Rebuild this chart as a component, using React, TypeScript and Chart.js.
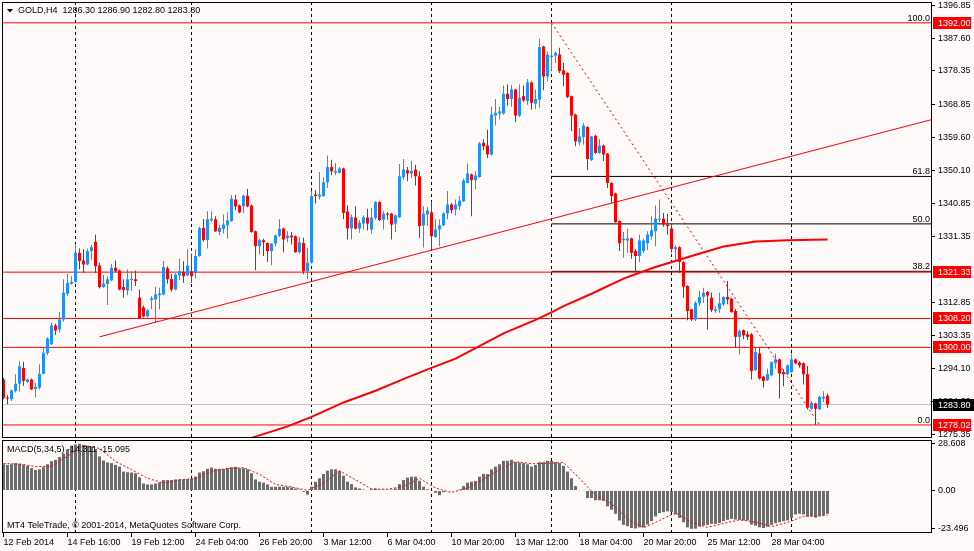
import React, { useEffect, useRef } from "react";
import { Chart, registerables } from "chart.js";

Chart.register(...registerables);

const FONT = '"Liberation Sans", Arial, sans-serif';
const BG = "#FFFAFA";
const BULL = "#1E90FF";
const BEAR = "#FF0000";

// ---- GOLD H4 candles (bar 0 = 12 Feb 2014 00:00) ----
const openP = [
  1290.9,1285.7,1285.3,1287.6,1289.7,1294.2,1290.2,1290.9,1288.2,1288.6,
  1292.5,1298.4,1300.9,1306.2,1305.1,1307.9,1315.2,1318.0,1318.6,1326.8,
  1324.6,1323.5,1327.3,1329.9,1323.2,1317.1,1318.0,1319.0,1322.6,1321.8,
  1317.1,1316.1,1319.1,1319.3,1314.1,1311.3,1308.8,1313.4,1313.6,1314.8,
  1315.0,1322.4,1319.4,1316.4,1320.4,1321.4,1320.5,1321.6,1321.1,1325.9,
  1333.9,1330.4,1336.0,1336.3,1332.7,1333.6,1334.6,1335.8,1341.9,1340.2,
  1340.0,1343.0,1340.2,1332.9,1328.7,1330.4,1329.6,1327.3,1329.4,1331.7,
  1333.7,1331.0,1331.7,1331.5,1327.0,1329.6,1321.6,1324.0,1343.3,1342.7,
  1342.9,1346.8,1351.1,1349.5,1349.5,1350.7,1338.5,1333.7,1336.8,1333.7,
  1335.1,1336.8,1333.4,1336.7,1341.2,1336.2,1337.9,1337.9,1335.1,1336.9,
  1348.2,1350.2,1349.3,1350.4,1348.5,1334.6,1337.7,1338.3,1331.3,1333.4,
  1334.6,1338.0,1340.5,1339.1,1340.0,1341.4,1346.6,1349.0,1347.4,1348.3,
  1358.0,1357.2,1354.7,1365.7,1366.3,1366.3,1371.9,1370.4,1373.1,1365.7,
  1371.2,1369.8,1375.1,1369.1,1370.2,1385.3,1376.8,1382.3,1382.7,1383.0,
  1378.5,1377.8,1371.2,1366.0,1358.1,1359.6,1362.5,1353.1,1360.0,1355.1,
  1357.2,1354.9,1346.6,1343.6,1335.8,1330.4,1330.3,1330.9,1327.3,1325.9,
  1327.3,1329.5,1331.5,1332.9,1336.2,1336.5,1334.8,1333.7,1327.8,1328.4,
  1324.2,1317.4,1310.8,1307.9,1312.5,1314.3,1315.7,1314.1,1310.3,1310.8,
  1312.2,1314.3,1313.8,1310.3,1303.0,1304.9,1303.7,1303.7,1293.6,1298.3,
  1291.7,1290.7,1292.1,1295.5,1296.6,1293.0,1292.4,1293.0,1296.6,1295.7,
  1295.5,1292.4,1282.6,1284.1,1282.4,1285.5,1286.30,
];
const highP = [
  1291.4,1286.5,1288.1,1292.4,1296.1,1295.9,1291.2,1291.2,1290.0,1295.2,
  1299.9,1302.9,1307.0,1306.7,1310.1,1319.3,1320.9,1320.2,1329.4,1328.0,
  1327.8,1328.0,1329.0,1332.0,1324.0,1320.5,1320.2,1323.7,1324.6,1322.1,
  1319.3,1322.1,1321.6,1321.8,1316.4,1311.9,1310.8,1314.5,1317.2,1316.9,
  1324.5,1323.0,1320.7,1321.0,1325.2,1324.4,1327.9,1326.6,1327.8,1334.2,
  1336.4,1338.6,1338.5,1337.2,1334.8,1337.7,1338.3,1343.1,1343.3,1340.5,
  1343.3,1344.9,1340.5,1333.1,1330.8,1330.8,1329.8,1329.6,1332.0,1336.3,
  1333.9,1332.9,1332.7,1331.7,1331.3,1331.1,1328.2,1344.3,1344.6,1349.7,
  1348.3,1354.4,1353.2,1352.3,1351.1,1350.9,1340.2,1337.7,1340.0,1336.1,
  1337.4,1339.3,1339.5,1341.4,1341.4,1338.6,1338.3,1338.1,1337.7,1352.0,
  1353.4,1351.1,1352.8,1351.8,1349.9,1340.0,1339.8,1341.4,1336.3,1336.3,
  1338.3,1344.3,1341.0,1341.9,1342.9,1347.8,1352.1,1349.3,1349.9,1358.2,
  1358.9,1361.7,1368.2,1370.4,1368.2,1374.2,1374.5,1374.4,1373.3,1374.5,
  1374.2,1376.1,1375.4,1373.1,1387.5,1385.5,1383.9,1392.0,1383.9,1384.9,
  1380.6,1378.0,1371.4,1366.2,1362.2,1363.6,1362.7,1360.0,1360.3,1359.1,
  1357.5,1355.1,1346.8,1343.8,1336.0,1332.7,1333.6,1331.1,1327.9,1332.0,
  1330.9,1332.9,1337.2,1340.2,1341.9,1338.1,1337.9,1335.1,1328.9,1328.7,
  1324.4,1317.6,1310.9,1313.1,1316.0,1316.9,1316.0,1315.5,1311.7,1315.5,
  1314.5,1318.8,1314.1,1310.9,1305.1,1305.1,1304.6,1304.0,1299.9,1299.9,
  1291.9,1294.0,1296.1,1298.3,1296.8,1293.8,1295.2,1298.3,1296.8,1296.1,
  1295.8,1294.7,1284.8,1284.3,1286.2,1287.6,1286.90,
];
const lowP = [
  1285.3,1283.9,1284.8,1287.2,1287.4,1289.1,1289.9,1287.9,1285.9,1288.1,
  1292.4,1297.8,1300.7,1303.5,1304.2,1307.3,1314.5,1317.8,1318.3,1322.1,
  1321.1,1323.3,1324.9,1321.1,1316.7,1316.9,1312.0,1318.8,1321.4,1316.2,
  1314.1,1314.8,1316.0,1317.4,1308.1,1308.5,1308.5,1310.8,1307.0,1310.8,
  1314.8,1318.1,1315.8,1316.2,1319.1,1318.3,1320.2,1318.3,1319.5,1325.7,
  1330.0,1328.0,1335.6,1332.7,1331.8,1332.3,1330.8,1335.6,1338.9,1338.0,
  1338.1,1339.8,1332.5,1321.9,1326.3,1325.9,1324.3,1323.3,1328.7,1331.3,
  1327.0,1329.8,1329.2,1326.8,1326.6,1320.7,1319.3,1323.8,1340.8,1341.9,
  1342.7,1345.2,1348.8,1348.8,1349.3,1336.4,1330.6,1330.6,1333.4,1332.5,
  1333.4,1333.1,1332.3,1336.2,1335.8,1333.4,1336.2,1330.6,1332.7,1336.7,
  1347.6,1347.1,1348.0,1345.9,1331.1,1328.3,1334.4,1327.8,1331.1,1328.7,
  1334.4,1336.3,1338.0,1337.4,1338.9,1341.2,1346.5,1337.2,1344.8,1348.1,
  1355.9,1353.7,1354.4,1362.9,1364.6,1366.0,1368.5,1368.2,1363.8,1365.3,
  1369.5,1368.8,1367.4,1367.6,1367.9,1372.9,1375.4,1378.5,1380.6,1377.8,
  1374.0,1370.7,1361.3,1357.0,1357.2,1357.5,1350.2,1352.8,1354.9,1354.9,
  1352.8,1345.2,1341.0,1335.3,1327.3,1325.4,1326.8,1325.1,1321.0,1324.2,
  1326.8,1327.6,1330.6,1328.7,1335.5,1334.2,1332.0,1326.8,1324.9,1321.1,
  1314.1,1307.7,1307.5,1307.5,1311.7,1312.6,1305.1,1310.0,1309.8,1309.8,
  1311.7,1312.2,1309.8,1299.9,1298.0,1302.3,1302.1,1290.9,1293.3,1290.9,
  1288.6,1290.5,1291.9,1294.0,1285.5,1289.0,1292.1,1292.8,1295.2,1294.2,
  1289.5,1282.4,1282.3,1278.02,1282.3,1284.5,1282.80,
];
const closeP = [
  1285.7,1285.5,1287.8,1289.7,1294.6,1290.5,1290.9,1288.1,1288.8,1292.5,
  1298.5,1302.5,1306.2,1304.8,1307.9,1315.5,1318.3,1318.6,1326.8,1324.5,
  1323.5,1327.3,1328.4,1323.0,1317.1,1318.1,1319.3,1322.6,1321.6,1316.4,
  1316.3,1319.3,1319.3,1318.8,1308.2,1308.8,1310.5,1313.9,1315.0,1315.3,
  1322.8,1319.3,1316.4,1320.7,1321.6,1320.2,1323.2,1320.2,1325.9,1333.8,
  1330.4,1336.3,1336.5,1332.9,1333.9,1334.8,1336.0,1342.1,1340.0,1338.3,
  1343.0,1340.0,1332.7,1328.7,1330.4,1329.8,1327.3,1329.4,1331.7,1333.6,
  1330.6,1331.7,1331.2,1327.0,1329.8,1321.6,1324.0,1342.9,1342.9,1343.3,
  1346.8,1351.1,1349.9,1349.9,1350.7,1338.1,1333.7,1336.9,1333.7,1335.3,
  1336.9,1335.1,1336.8,1341.2,1336.1,1337.9,1337.6,1334.8,1337.4,1348.5,
  1350.4,1349.3,1350.0,1348.5,1334.4,1337.9,1338.8,1331.5,1333.4,1334.6,
  1338.0,1340.5,1338.9,1340.5,1341.6,1347.3,1349.3,1347.4,1348.7,1357.8,
  1357.0,1354.7,1366.0,1366.5,1366.9,1371.9,1370.4,1373.1,1365.7,1370.7,
  1370.0,1375.1,1369.3,1370.4,1385.1,1376.8,1383.0,1382.7,1383.5,1378.3,
  1377.3,1371.0,1365.7,1358.4,1359.8,1362.9,1353.4,1359.8,1355.1,1357.2,
  1354.7,1346.6,1342.9,1335.5,1329.5,1330.8,1330.9,1326.8,1325.9,1330.3,
  1330.3,1332.0,1333.2,1336.5,1336.5,1334.8,1334.4,1327.9,1328.4,1324.2,
  1317.2,1310.3,1307.9,1312.6,1314.3,1315.5,1314.7,1310.6,1310.8,1312.5,
  1314.3,1313.6,1310.0,1303.0,1304.6,1303.4,1303.0,1293.3,1298.7,1291.2,
  1290.5,1292.4,1295.8,1296.6,1292.6,1292.4,1294.9,1296.6,1295.5,1294.9,
  1292.4,1282.9,1284.3,1282.6,1286.0,1286.0,1283.80,
];

// ---- moving average (read at selected bars) ----
const maBars = [59, 63, 71, 77, 85, 93, 101, 107, 113, 118, 125, 133, 137, 140, 147, 155, 163, 172, 180, 188, 196, 206];
const maValues = [1273.3, 1274.7, 1277.6, 1280.3, 1284.4, 1287.7, 1291.5, 1294.2, 1296.8, 1299.8, 1304.0, 1307.8, 1309.9, 1311.7, 1315.2, 1319.5, 1322.8, 1325.9, 1328.6, 1330.0, 1330.4, 1330.6];

// ---- MACD(5,34,5) ----
const macdMain = [
  16.1,15.7,16.1,16.8,16.4,15.9,15.1,13.7,12.6,13.0,
  14.3,16.1,18.0,18.8,20.5,22.6,25.1,27.5,28.2,28.608,
  28.0,27.5,27.1,25.5,20.9,18.4,17.2,16.8,15.7,14.7,
  11.6,11.2,11.0,10.6,8.1,4.3,3.7,3.7,4.3,5.0,
  6.4,6.4,6.4,6.8,6.8,6.8,7.0,7.2,8.5,11.0,
  11.8,13.3,14.1,13.3,13.3,13.3,13.7,14.3,14.5,13.7,
  13.7,13.0,10.6,6.8,5.4,4.8,3.7,2.3,2.3,2.3,
  2.3,2.3,1.9,1.2,0.6,-0.8,-2.5,2.3,5.4,7.5,
  10.1,12.2,13.0,13.0,12.0,9.1,5.4,3.9,1.9,1.2,
  0.6,0.2,0.8,1.2,0.6,0.6,0.6,0.6,1.2,3.9,
  6.4,7.9,8.5,8.5,6.0,2.3,0.8,-0.2,-1.4,-2.9,
  -1.0,-0.4,-0.4,-0.4,0.6,2.7,4.8,5.4,5.8,8.5,
  10.1,10.1,13.0,14.7,16.1,18.2,18.2,18.8,17.4,17.2,
  16.8,16.1,14.7,15.7,17.4,17.4,18.2,18.2,17.4,16.8,
  15.1,11.6,7.5,2.7,0.2,-0.2,-4.6,-4.6,-6.0,-6.0,
  -6.4,-9.7,-11.8,-14.3,-18.4,-21.1,-21.9,-23.0,-23.3,-22.6,
  -22.6,-20.9,-18.8,-15.9,-13.8,-13.3,-12.8,-13.3,-14.7,-16.8,
  -19.5,-22.6,-23.496,-23.4,-22.2,-21.5,-21.1,-20.5,-20.5,-19.9,
  -18.8,-18.0,-17.4,-17.8,-18.0,-18.4,-18.4,-20.9,-21.5,-22.6,
  -23.0,-22.2,-21.1,-20.1,-19.5,-18.8,-18.4,-16.8,-14.7,-14.3,
  -14.7,-15.9,-15.8,-16.6,-15.6,-15.2,-14.311,
];
const signalBars = [
  0,4,8,12,16,20,24,28,32,36,40,44,48,52,56,60,64,68,72,76,80,84,88,92,96,100,
  104,108,112,116,120,124,128,132,136,140,144,148,152,156,160,164,168,172,176,
  180,184,188,192,196,200,204,206,
];
const signalValues = [
  16.6,16.2,14.7,14.8,21.0,27.5,25.8,17.8,12.8,7.5,
  4.6,6.6,7.3,11.7,13.5,14.0,9.9,3.7,2.2,0.1,
  4.6,12.1,6.5,0.9,0.8,2.5,7.5,1.5,-1.2,1.5,
  6.9,12.8,17.7,16.4,16.7,17.1,7.4,-3.0,-8.0,-17.5,
  -22.8,-18.4,-13.6,-19.5,-22.6,-20.2,-18.0,-19.4,-22.1,-19.6,
  -15.8,-15.7,-15.095,
];
const macdTicks = [28.608, 0, -23.496];
const macdTickLabels = ["28.608", "0.00", "-23.496"];

// ---- axes / annotations ----
const priceTicks = [1396.85, 1387.6, 1378.35, 1368.85, 1359.6, 1350.1, 1340.85, 1331.35, 1312.85, 1303.35, 1294.1, 1284.6, 1275.35];
const redLevels = [1392.0, 1321.33, 1308.2, 1300.0, 1278.02];
const bidPrice = 1283.8;
const fibLabels = ["100.0", "61.8", "50.0", "38.2", "0.0"];
const fibLevels = [1392.0, 1348.46, 1335.01, 1321.56, 1278.02];
const fibStartBar = 137;
const fibEndBar = 204;
const trendBars = [24, 232.125];
const trendPrices = [1303.0, 1364.6];
const weekBars = [18, 47, 77, 107, 137, 167, 197];
const timeLabelBars = [0, 16, 32, 48, 64, 80, 96, 112, 128, 144, 160, 176, 192];
const timeLabels = [
  "12 Feb 2014", "14 Feb 16:00", "19 Feb 12:00", "24 Feb 04:00", "26 Feb 20:00",
  "3 Mar 12:00", "6 Mar 04:00", "10 Mar 20:00", "13 Mar 12:00", "18 Mar 04:00",
  "20 Mar 20:00", "25 Mar 12:00", "28 Mar 04:00",
];
const symbolTitle = "GOLD,H4";
const macdTitle = "MACD(5,34,5)";
const copyright = "MT4 TeleTrade, \u00A9 2001-2014, MetaQuotes Software Corp.";

const X_MIN = -0.375;
const X_MAX = 232.125;
const Y_MIN = 1274.32;
const Y_MAX = 1397.9;
const M_MIN = -26.07;
const M_MAX = 30.98;

Chart.defaults.font.family = FONT;
Chart.defaults.font.size = 9;
Chart.defaults.color = "#000";

const noPad = (s: any) => {
  s.paddingTop = 0;
  s.paddingBottom = 0;
  s.paddingLeft = 0;
  s.paddingRight = 0;
};

const framePlugin = {
  id: "frame",
  afterDraw(chart: any) {
    const { ctx, chartArea: a } = chart;
    ctx.save();
    ctx.strokeStyle = "#000";
    ctx.lineWidth = 1;
    ctx.strokeRect(a.left + 0.5, a.top + 0.5, a.right - a.left - 1, a.bottom - a.top - 1);
    ctx.restore();
  },
};

const mainOverlay = {
  id: "mainOverlay",
  afterDraw(chart: any) {
    const { ctx, chartArea: a } = chart;
    const ys = chart.scales.y;
    ctx.save();
    ctx.font = `9px ${FONT}`;
    ctx.fillStyle = "#000";
    ctx.textAlign = "right";
    ctx.textBaseline = "alphabetic";
    fibLabels.forEach((t, k) => {
      ctx.fillText(t, a.right - 2, Math.round(ys.getPixelForValue(fibLevels[k])) - 2);
    });
    const box = (v: number, color: string, w: number) => {
      const py = Math.round(ys.getPixelForValue(v));
      ctx.fillStyle = color;
      ctx.fillRect(a.right + 1, py - 6, w, 12);
      ctx.fillStyle = "#fff";
      ctx.textAlign = "left";
      ctx.textBaseline = "middle";
      ctx.fillText(v.toFixed(2), a.right + 6, py + 0.5);
    };
    redLevels.forEach((v) => box(v, BEAR, 38));
    box(bidPrice, "#000", 42);
    ctx.fillStyle = "#000";
    ctx.beginPath();
    ctx.moveTo(7, 9);
    ctx.lineTo(13, 9);
    ctx.lineTo(10, 12.5);
    ctx.closePath();
    ctx.fill();
    const last = closeP.length - 1;
    const header = `${symbolTitle}  ${openP[last].toFixed(2)} ${highP[last].toFixed(2)} ${lowP[last].toFixed(2)} ${closeP[last].toFixed(2)}`;
    ctx.textAlign = "left";
    ctx.textBaseline = "middle";
    ctx.fillText(header, 18, 11);
    ctx.restore();
  },
};

const macdOverlay = {
  id: "macdOverlay",
  afterDraw(chart: any) {
    const { ctx } = chart;
    ctx.save();
    ctx.font = `9px ${FONT}`;
    ctx.fillStyle = "#000";
    ctx.textAlign = "left";
    ctx.textBaseline = "middle";
    const lastM = macdMain[macdMain.length - 1];
    const lastS = signalValues[signalValues.length - 1];
    ctx.fillText(`${macdTitle} ${lastM.toFixed(3)} ${lastS.toFixed(3)}`, 7, 9.5);
    ctx.fillText(copyright, 7, 86);
    ctx.restore();
  },
};

const bars = openP.map((_, i) => i);
const candleColors = bars.map((i) => (closeP[i] >= openP[i] ? BULL : BEAR));

function hLine(v: number, from: number, color: string, order: number) {
  return {
    type: "line",
    data: [{ x: from, y: v }, { x: X_MAX, y: v }],
    borderColor: color,
    borderWidth: 1,
    pointRadius: 0,
    order,
  };
}

function mainConfig(): any {
  return {
    type: "bar",
    data: {
      datasets: [
        ...redLevels.map((v) => hLine(v, X_MIN, BEAR, 10)),
        hLine(bidPrice, X_MIN, "#C0C0C0", 11),
        ...fibLevels.slice(1, 4).map((v) => hLine(v, fibStartBar, "#000", 10)),
        {
          type: "bar",
          data: bars.map((i) => ({ x: i, y: [lowP[i], highP[i]] })),
          backgroundColor: candleColors,
          barThickness: 1,
          grouped: false,
          minBarLength: 1,
          borderWidth: 0,
          inflateAmount: 0,
          order: 9,
        },
        {
          type: "bar",
          data: bars.map((i) => ({ x: i, y: [openP[i], closeP[i]] })),
          backgroundColor: candleColors,
          barThickness: 3,
          grouped: false,
          minBarLength: 1,
          borderWidth: 0,
          inflateAmount: 0,
          order: 8,
        },
        {
          type: "line",
          data: maBars.map((b, k) => ({ x: b, y: maValues[k] })),
          borderColor: BEAR,
          borderWidth: 2,
          pointRadius: 0,
          order: 3,
        },
        {
          type: "line",
          data: trendBars.map((b, k) => ({ x: b, y: trendPrices[k] })),
          borderColor: BEAR,
          borderWidth: 1,
          pointRadius: 0,
          order: 2,
        },
        {
          type: "line",
          data: [
            { x: fibStartBar, y: fibLevels[0] },
            { x: fibEndBar, y: fibLevels[4] },
          ],
          borderColor: BEAR,
          borderWidth: 1,
          borderDash: [2, 3],
          pointRadius: 0,
          order: 1,
        },
      ],
    },
    options: {
      responsive: false,
      animation: false,
      devicePixelRatio: 1,
      events: [],
      layout: { padding: { left: 2, right: 0, top: 2, bottom: 2 } },
      plugins: { legend: { display: false }, tooltip: { enabled: false } },
      scales: {
        x: {
          type: "linear",
          min: X_MIN,
          max: X_MAX,
          bounds: "data",
          offset: false,
          afterBuildTicks: (s: any) => {
            s.ticks = weekBars.map((v) => ({ value: v }));
          },
          afterFit: (s: any) => {
            s.height = 0;
            noPad(s);
          },
          ticks: { display: false },
          grid: { color: "#000", lineWidth: 1, drawTicks: false, offset: false },
          border: { display: false, dash: [3, 3] },
        },
        y: {
          type: "linear",
          position: "right",
          min: Y_MIN,
          max: Y_MAX,
          bounds: "data",
          afterBuildTicks: (s: any) => {
            s.ticks = priceTicks.map((v) => ({ value: v }));
          },
          afterFit: (s: any) => {
            s.width = 42;
            noPad(s);
          },
          ticks: {
            autoSkip: false,
            padding: 3,
            color: "#000",
            font: { family: FONT, size: 9 },
            callback: (v: any) => Number(v).toFixed(2),
          },
          grid: { drawOnChartArea: false, drawTicks: true, tickLength: 3, tickColor: "#000", tickWidth: 1 },
          border: { display: false },
        },
      },
    },
    plugins: [framePlugin, mainOverlay],
  };
}

function macdConfig(): any {
  return {
    type: "bar",
    data: {
      datasets: [
        {
          type: "line",
          data: signalBars.map((b, k) => ({ x: b, y: signalValues[k] })),
          borderColor: BEAR,
          borderWidth: 1,
          borderDash: [2, 2],
          pointRadius: 0,
          spanGaps: true,
          order: 0,
        },
        {
          type: "bar",
          data: bars.map((i) => ({ x: i, y: macdMain[i] })),
          backgroundColor: "#6B6B6B",
          barThickness: 3,
          grouped: false,
          borderWidth: 0,
          inflateAmount: 0,
          order: 1,
        },
      ],
    },
    options: {
      responsive: false,
      animation: false,
      devicePixelRatio: 1,
      events: [],
      layout: { padding: { left: 2, right: 0, top: 0, bottom: 0 } },
      plugins: { legend: { display: false }, tooltip: { enabled: false } },
      scales: {
        x: {
          type: "linear",
          position: "bottom",
          min: X_MIN,
          max: X_MAX,
          bounds: "data",
          offset: false,
          afterBuildTicks: (s: any) => {
            s.ticks = timeLabelBars.map((v) => ({ value: v }));
          },
          afterFit: (s: any) => {
            s.height = 18;
            noPad(s);
          },
          ticks: {
            autoSkip: false,
            maxRotation: 0,
            minRotation: 0,
            align: "start",
            padding: 0,
            color: "#000",
            font: { family: FONT, size: 9 },
            callback: (_v: any, i: number) => timeLabels[i],
          },
          grid: { drawOnChartArea: false, drawTicks: true, tickLength: 4, tickColor: "#000", offset: false },
          border: { display: false },
        },
        xw: {
          type: "linear",
          position: "bottom",
          min: X_MIN,
          max: X_MAX,
          bounds: "data",
          offset: false,
          afterBuildTicks: (s: any) => {
            s.ticks = weekBars.map((v) => ({ value: v }));
          },
          afterFit: (s: any) => {
            s.height = 0;
            noPad(s);
          },
          ticks: { display: false },
          grid: { color: "#000", lineWidth: 1, drawTicks: false, offset: false },
          border: { display: false, dash: [3, 3] },
        },
        y: {
          type: "linear",
          position: "right",
          min: M_MIN,
          max: M_MAX,
          bounds: "data",
          afterBuildTicks: (s: any) => {
            s.ticks = macdTicks.map((v) => ({ value: v }));
          },
          afterFit: (s: any) => {
            s.width = 42;
            noPad(s);
          },
          ticks: {
            autoSkip: false,
            padding: 3,
            color: "#000",
            font: { family: FONT, size: 9 },
            callback: (_v: any, i: number) => macdTickLabels[i],
          },
          grid: { drawOnChartArea: false, drawTicks: true, tickLength: 3, tickColor: "#000" },
          border: { display: false },
        },
      },
    },
    plugins: [framePlugin, macdOverlay],
  };
}

export default function App() {
  const mainRef = useRef<HTMLCanvasElement>(null);
  const macdRef = useRef<HTMLCanvasElement>(null);
  useEffect(() => {
    const main = new Chart(mainRef.current as HTMLCanvasElement, mainConfig());
    const macd = new Chart(macdRef.current as HTMLCanvasElement, macdConfig());
    return () => {
      main.destroy();
      macd.destroy();
    };
  }, []);
  return (
    <div
      style={{
        position: "fixed",
        left: 0,
        top: 0,
        width: 974,
        height: 551,
        background: BG,
        overflow: "hidden",
      }}
    >
      <canvas
        ref={mainRef}
        width={974}
        height={440}
        style={{ position: "absolute", left: 0, top: 0, width: 974, height: 440 }}
      />
      <canvas
        ref={macdRef}
        width={974}
        height={111}
        style={{ position: "absolute", left: 0, top: 440, width: 974, height: 111 }}
      />
    </div>
  );
}
